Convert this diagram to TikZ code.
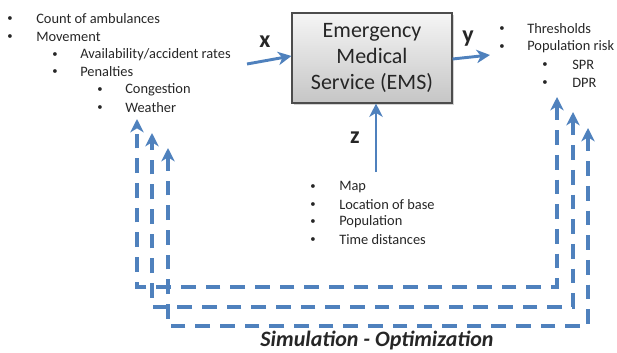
\documentclass[tikz,border=0pt]{standalone}
\usepackage{fontspec}
\setmainfont{Carlito}
\usetikzlibrary{arrows.meta,shadows}
\definecolor{ofblue}{HTML}{4F81BD}
\definecolor{txt}{HTML}{262626}
\begin{document}
\begin{tikzpicture}[x=0.75pt,y=-0.75pt,
  item/.style={anchor=west,inner sep=0pt,text=txt,font=\fontsize{10.8}{12}\selectfont},
  bul/.style={inner sep=0pt,text=txt,font=\fontsize{8}{10}\selectfont},
  ems/.style={draw=black!70,line width=0.8pt,top color=gray!8,bottom color=gray!45,
    minimum width=120pt,minimum height=67.5pt,align=center,text=txt,
    font=\fontsize{16.5}{19.8}\selectfont,drop shadow={shadow xshift=1.2pt,shadow yshift=-1.2pt,opacity=0.35}},
  varlab/.style={font=\fontsize{18}{18}\selectfont\bfseries,text=txt,inner sep=0pt},
  solidarrow/.style={draw=ofblue,line width=2.2pt,-{Stealth[length=10pt,width=10pt,inset=3pt]}},
  dasharrow/.style={draw=ofblue,line width=2.9pt,dash pattern=on 11pt off 7.5pt,
    {Stealth[length=10pt,width=10pt,inset=3pt]}-{Stealth[length=10pt,width=10pt,inset=3pt]}}
]
\useasboundingbox (0,0) rectangle (617,353);
% EMS box
\node[ems] (ems) at (372,58) {Emergency\\Medical\\Service (EMS)};
% left list
\node[bul] (b1) at (10,19) {•}; \node[item] (t1) at (36,19) {Count of ambulances};
\node[bul] (b2) at (10,37) {•}; \node[item] (t2) at (36,37) {Movement};
\node[bul] (b3) at (55,55) {•}; \node[item] (t3) at (80,55) {Availability/accident rates};
\node[bul] (b4) at (55,72) {•}; \node[item] (t4) at (80,72) {Penalties};
\node[bul] (b5) at (100,90) {•}; \node[item] (t5) at (125,90) {Congestion};
\node[bul] (b6) at (100,108) {•}; \node[item] (t6) at (125,108) {Weather};
% right list
\node[bul] (r1) at (502,29) {•}; \node[item] (s1) at (527,29) {Thresholds};
\node[bul] (r2) at (502,47) {•}; \node[item] (s2) at (527,47) {Population risk};
\node[bul] (r3) at (545,65) {•}; \node[item] (s3) at (572,65) {SPR};
\node[bul] (r4) at (545,83) {•}; \node[item] (s4) at (572,83) {DPR};
% bottom list
\node[bul] (m1) at (313,187) {•}; \node[item] (n1) at (339,187) {Map};
\node[bul] (m2) at (313,205) {•}; \node[item] (n2) at (339,205) {Location of base};
\node[bul] (m3) at (313,222) {•}; \node[item] (n3) at (339,222) {Population};
\node[bul] (m4) at (313,240) {•}; \node[item] (n4) at (339,240) {Time distances};
% variable labels
\node[varlab] (xl) at (265,42) {x};
\node[varlab] (yl) at (468,39) {y};
\node[varlab] (zl) at (355,138) {z};
% solid arrows
\coordinate (xs) at (247,64);
\coordinate (ys) at (ems.east|-0,59);
\coordinate (ye) at (490,55);
\coordinate (zs) at (376,172);
\draw[solidarrow] (xs) -- (ems.west|-0,56);
\draw[solidarrow] (ys) -- (ye);
\draw[solidarrow] (zs) -- (ems.south-|376,0);
% dashed feedback loops
\coordinate (l1) at (137,119); \coordinate (r1t) at (557,97);
\coordinate (l2) at (152,133); \coordinate (r2t) at (573,112);
\coordinate (l3) at (168,148); \coordinate (r3t) at (588,128);
\draw[dasharrow] (r1t) -- (557,287) -- (137,287) -- (l1);
\draw[dasharrow] (r2t) -- (573,307) -- (152,307) -- (l2);
\draw[dasharrow] (r3t) -- (588,326) -- (168,326) -- (l3);
% caption
\node[font=\fontsize{16.5}{16.5}\selectfont\bfseries\itshape,text=txt,inner sep=0pt] (cap) at (377,341) {Simulation - Optimization};
\end{tikzpicture}
\end{document}
